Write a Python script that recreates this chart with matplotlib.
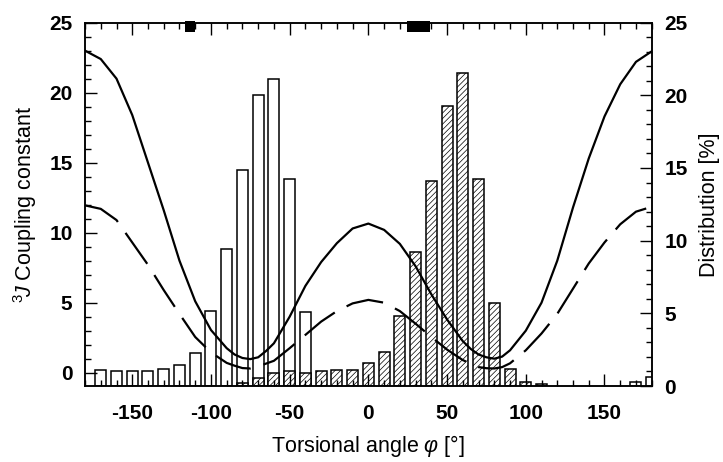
import matplotlib.pyplot as plt
from matplotlib.ticker import MultipleLocator

# Karplus curves (left axis, Hz)
phi_solid = [-180, -170, -160, -150, -140, -130, -120, -110, -100, -90, -85, -80, -75, -70,
             -65, -60, -50, -40, -30, -20, -10, 0, 10, 20, 30, 40, 50, 60, 65, 70, 75, 80,
             85, 90, 100, 110, 120, 130, 140, 150, 160, 170, 180]
j_solid = [23.0, 22.4, 21.0, 18.4, 15.0, 11.6, 8.0, 5.1, 3.05, 1.75, 1.3, 1.05, 0.97, 1.1,
           1.55, 2.1, 4.0, 6.2, 7.9, 9.25, 10.3, 10.65, 10.2, 9.2, 7.6, 5.6, 3.8, 2.25, 1.7, 1.3, 1.1, 1.0,
           1.15, 1.6, 3.0, 5.0, 8.0, 11.8, 15.3, 18.3, 20.6, 22.2, 22.95]

phi_dash = [-180, -170, -160, -150, -140, -130, -120, -110, -100, -90, -85, -80, -75, -70,
            -60, -50, -40, -30, -20, -10, 0, 10, 20, 30, 40, 50, 60, 70, 75, 80, 85, 90,
            100, 110, 120, 130, 140, 150, 160, 170, 180]
j_dash = [11.95, 11.7, 10.9, 9.3, 7.7, 5.9, 4.2, 2.55, 1.45, 0.7, 0.5, 0.33, 0.3, 0.45,
          0.85, 1.75, 2.7, 3.65, 4.4, 4.95, 5.2, 5.0, 4.4, 3.5, 2.55, 1.65, 0.9, 0.4, 0.32, 0.3, 0.4, 0.67,
          1.6, 2.8, 4.2, 6.0, 7.8, 9.3, 10.6, 11.5, 11.85]

# Distribution histograms (right axis, %)
open_phi = [-170, -160, -150, -140, -130, -120, -110, -100, -90, -80, -70, -60, -50, -40, 170, 180]
open_pct = [1.1, 1.0, 1.05, 1.0, 1.2, 1.45, 2.25, 5.15, 9.4, 14.85, 20.0, 21.1, 14.25, 5.1, 0.26, 0.6]

hatch_phi = [-80, -70, -60, -50, -40, -30, -20, -10, 0, 10, 20, 30, 40, 50, 60, 70, 80, 90, 100, 110]
hatch_pct = [0.22, 0.56, 0.9, 1.02, 0.9, 1.02, 1.07, 1.13, 1.55, 2.32, 4.8, 9.25, 14.1, 19.25,
             21.55, 14.25, 5.7, 1.2, 0.26, 0.15]

# Black marks on the top axis (angle ranges)
mark_start = [-116.5, 24.3]
mark_end = [-110.2, 39.1]

plt.rcParams['font.family'] = ['Liberation Sans', 'DejaVu Sans']
plt.rcParams['mathtext.fontset'] = 'custom'
plt.rcParams['mathtext.rm'] = 'Liberation Sans'
plt.rcParams['mathtext.it'] = 'Liberation Sans:italic'
plt.rcParams['hatch.linewidth'] = 0.5
plt.rcParams['axes.unicode_minus'] = False

fig = plt.figure(figsize=(7.23, 4.62), dpi=100)
ax = fig.add_subplot(111)
fig.subplots_adjust(left=0.1176, right=0.9014, top=0.951, bottom=0.1645)
ax2 = ax.twinx()

# histograms behind the curves
ax2.bar(open_phi, open_pct, width=7, color='white', edgecolor='black', linewidth=1.1)
ax2.bar(hatch_phi, hatch_pct, width=7, color='white', edgecolor='black', linewidth=1.1,
        hatch='//////')
ax2.set_ylim(0, 25)

ax.set_zorder(ax2.get_zorder() + 1)
ax.patch.set_visible(False)

ax.plot(phi_solid, j_solid, color='black', lw=1.6)
ax.plot(phi_dash, j_dash, color='black', lw=1.6, dashes=(17, 6))

ax.broken_barh([(s, e - s) for s, e in zip(mark_start, mark_end)], (24.36, 0.78),
               facecolors='black', clip_on=False, zorder=5)

ax.set_xlim(-180, 180)
ax.set_ylim(-0.95, 25)

ax.xaxis.set_major_locator(MultipleLocator(50))
ax.xaxis.set_minor_locator(MultipleLocator(10))
ax.yaxis.set_major_locator(MultipleLocator(5))
ax.yaxis.set_minor_locator(MultipleLocator(1))
ax2.yaxis.set_major_locator(MultipleLocator(5))
ax2.yaxis.set_minor_locator(MultipleLocator(1))

ax.tick_params(axis='x', which='both', direction='in', top=True, bottom=True, pad=13)
ax.tick_params(axis='y', which='both', direction='in', left=True, right=False, pad=9)
ax2.tick_params(axis='y', which='both', direction='in', pad=9)
for a in (ax, ax2):
    a.tick_params(which='major', length=8.5, width=1.0, labelsize=15)
    a.tick_params(which='minor', length=4, width=1.0)
    for lab in a.get_xticklabels() + a.get_yticklabels():
        lab.set_fontweight('bold')
    for sp in a.spines.values():
        sp.set_linewidth(1.1)

ax.set_xlabel(r'Torsional angle $\varphi$ [°]', fontsize=15.5)
ax.set_ylabel(r'$^3\!J$ Coupling constant', fontsize=15.5)
ax2.set_ylabel('Distribution [%]', fontsize=15.5)
ax.xaxis.set_label_coords(0.5, -0.128)
ax.yaxis.set_label_coords(-0.082, 0.5)
ax2.yaxis.set_label_coords(1.083, 0.5)

plt.savefig('out.png', dpi=100)
